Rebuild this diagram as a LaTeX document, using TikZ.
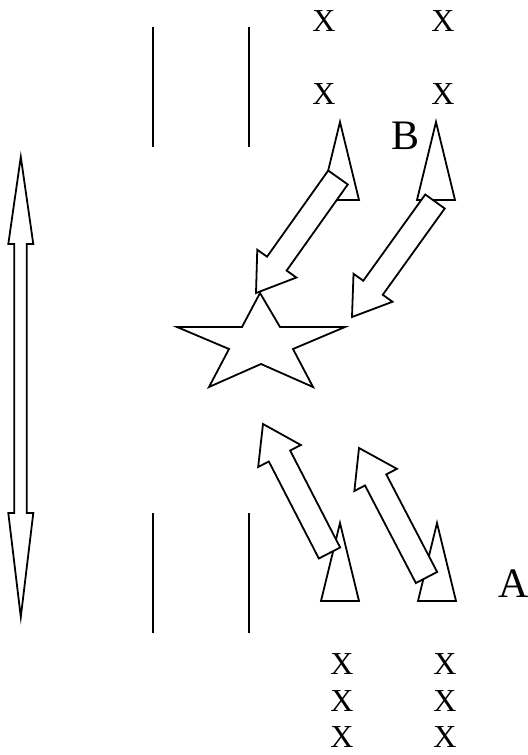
\documentclass[tikz,border=0pt]{standalone}
\usepackage{fontspec}
\setmainfont{Liberation Serif}
\usepackage{tikz}
\usetikzlibrary{calc}

% wide arrow from tail #1 to tip #2
\newcommand{\fatarrow}[2]{%
  \coordinate (#2-base) at ($(#2)!18pt!(#1)$);
  \draw[fat] ($(#1)!6pt!90:(#2)$) -- ($(#2-base)!6pt!90:(#2)$)
    -- ($(#2-base)!12pt!90:(#2)$) -- (#2)
    -- ($(#2-base)!12pt!-90:(#2)$) -- ($(#2-base)!6pt!-90:(#2)$)
    -- ($(#1)!6pt!-90:(#2)$) -- cycle;}

\begin{document}
\begin{tikzpicture}[
  x=0.5pt, y=-0.5pt,
  line width=0.9pt,
  fat/.style={draw,fill=white,line join=miter},
  spike/.style={draw,fill=white,line join=miter},
  xmark/.style={inner sep=0pt,font=\fontsize{16}{16}\selectfont},
  lbl/.style={inner sep=0pt,font=\fontsize{21}{21}\selectfont}]

  \useasboundingbox (0,0) rectangle (528,755);

  % wall lines
  \foreach \x in {153,249} {
    \draw (\x,27) -- (\x,147);
    \draw (\x,513) -- (\x,633);
  }

  % markers
  \foreach \x/\y [count=\i] in {324/21,443/21,324/94,443/94,
      342/664,445/664,342/701,445/701,342/737,445/737}
    \node[xmark] (x\i) at (\x,\y) {X};
  \node[lbl] (B) at (405.5,136) {B};
  \node[lbl] (A) at (514,584) {A};

  % double arrow
  \draw[fat] (20.8,157) -- (33.3,244) -- (26.7,244) -- (26.7,513)
    -- (33.3,513) -- (20.8,617) -- (8.3,513) -- (14.3,513)
    -- (14.3,244) -- (8.3,244) -- cycle;

  % spikes
  \foreach \x/\y in {340/200,436/200,340/601,437/601}
    \draw[spike] (\x-19,\y) -- (\x,\y-78) -- (\x+19,\y) -- cycle;

  % star
  \draw[line join=miter] (260,293) -- (280,327) -- (345,327) -- (293,349)
    -- (313,387) -- (261,364) -- (209,387) -- (229,349) -- (177,327)
    -- (242,327) -- cycle;

  % arrows
  \coordinate (t1) at (338,177.5);   \coordinate (h1) at (256,293);
  \coordinate (t2) at (435,201.5);   \coordinate (h2) at (352,317);
  \coordinate (t3) at (329.5,553);   \coordinate (h3) at (263,424);
  \coordinate (t4) at (426.5,577.5); \coordinate (h4) at (359,448);
  \fatarrow{t1}{h1}
  \fatarrow{t2}{h2}
  \fatarrow{t3}{h3}
  \fatarrow{t4}{h4}
\end{tikzpicture}
\end{document}
